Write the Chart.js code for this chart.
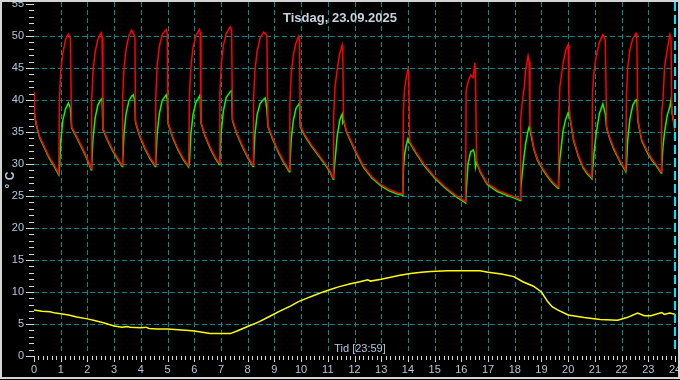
<!DOCTYPE html>
<html>
<head>
<meta charset="utf-8">
<title>Tisdag, 23.09.2025</title>
<script src="https://cdn.jsdelivr.net/npm/chart.js@4.4.1/dist/chart.umd.min.js"></script>
<style>
  html, body { margin: 0; padding: 0; background: #000; }
  canvas { display: block; }
</style>
</head>
<body>
<canvas id="temp-chart" width="680" height="380"></canvas>
<script>
var tittel = 'Tisdag, 23.09.2025';
var tidTekst = 'Tid [23:59]';
var jetzt = 23 + 59 / 60;

var yTicks = ['0', '5', '10', '15', '20', '25', '30', '35', '40', '45', '50', '55'];
var xTicks = ['0', '1', '2', '3', '4', '5', '6', '7', '8', '9', '10', '11', '12',
  '13', '14', '15', '16', '17', '18', '19', '20', '21', '22', '23', '24'];

// tid (timer) delt av rød og grønn kurve, en linje per syklus
var tid = [
  0, 0.02, 0.08, 0.2, 0.39, 0.57, 0.76, 0.93,
  0.95, 1.0, 1.08, 1.18, 1.29, 1.36, 1.41, 1.6, 1.85, 2.04, 2.14,
  2.16, 2.21, 2.29, 2.39, 2.51, 2.55, 2.58, 2.75, 2.95, 3.15, 3.3,
  3.32, 3.37, 3.45, 3.55, 3.66, 3.72, 3.78, 3.8, 3.95, 4.15, 4.35, 4.54,
  4.56, 4.61, 4.69, 4.8, 4.95, 4.99, 5.02, 5.2, 5.4, 5.6, 5.79,
  5.82, 5.87, 5.95, 6.06, 6.19, 6.22, 6.25, 6.4, 6.6, 6.8, 6.94,
  6.96, 7.01, 7.09, 7.2, 7.35, 7.4, 7.43, 7.6, 7.8, 8.0, 8.2,
  8.22, 8.27, 8.35, 8.46, 8.6, 8.66, 8.72, 8.76, 8.95, 9.15, 9.35, 9.56,
  9.58, 9.63, 9.71, 9.81, 9.91, 9.94, 9.97, 10.15, 10.4, 10.65, 10.9, 11.1, 11.2,
  11.22, 11.27, 11.35, 11.45, 11.54, 11.56, 11.59, 11.7, 11.85, 12.05, 12.35, 12.65, 12.98, 13.3, 13.6, 13.81,
  13.83, 13.87, 13.93, 14.0, 14.03, 14.07, 14.3, 14.6, 15.0, 15.4, 15.8, 16.16,
  16.18, 16.25, 16.35, 16.45, 16.5, 16.53, 16.57, 16.7, 16.97, 17.35, 17.7, 17.97, 18.2,
  18.22, 18.29, 18.35, 18.41, 18.5, 18.54, 18.57, 18.72, 18.85, 19.04, 19.23, 19.42, 19.62,
  19.64, 19.69, 19.81, 19.91, 20.0, 20.03, 20.07, 20.2, 20.39, 20.57, 20.73, 20.89,
  20.91, 20.97, 21.05, 21.17, 21.3, 21.39, 21.44, 21.55, 21.7, 21.93, 22.16,
  22.18, 22.23, 22.31, 22.42, 22.54, 22.57, 22.61, 22.75, 22.95, 23.15, 23.3, 23.48,
  23.5, 23.55, 23.61, 23.71, 23.81, 23.85, 23.88, 23.94, 24.0
];

var roed = [
  41.2, 38.0, 36.4, 34.4, 32.7, 31.1, 29.8, 28.5,
  39.5, 44.4, 47.3, 49.4, 50.3, 49.6, 35.8, 34.3, 32.2, 30.4, 29.3,
  40.0, 44.5, 47.5, 49.4, 50.5, 49.8, 35.6, 33.9, 32.2, 30.8, 29.8,
  40.5, 45.0, 48.0, 50.0, 50.9, 50.4, 49.8, 36.7, 34.6, 32.6, 31.0, 29.8,
  40.5, 45.2, 48.3, 50.2, 51.0, 50.4, 36.5, 34.2, 32.3, 30.8, 29.7,
  40.5, 45.0, 48.0, 50.0, 51.0, 50.6, 36.6, 34.6, 32.6, 31.0, 30.1,
  41.0, 45.5, 48.5, 50.4, 51.4, 50.9, 37.0, 34.8, 32.9, 31.2, 29.8,
  40.0, 44.5, 47.5, 49.6, 50.6, 50.4, 50.0, 36.0, 33.9, 32.0, 30.4, 29.0,
  39.5, 44.0, 47.0, 48.9, 50.0, 49.6, 36.0, 34.5, 32.9, 31.5, 30.1, 28.8, 27.8,
  37.5, 42.0, 44.7, 47.3, 48.6, 47.8, 37.0, 35.2, 33.8, 32.0, 29.6, 28.0, 26.8, 26.0, 25.5, 25.3,
  38.0, 41.5, 43.3, 44.8, 44.2, 33.5, 31.9, 30.0, 28.0, 26.4, 25.1, 24.1,
  41.5, 42.8, 43.9, 43.5, 45.8, 44.5, 30.5, 29.0, 27.0, 25.9, 25.3, 24.9, 24.5,
  36.9, 40.0, 41.8, 44.7, 46.9, 46.0, 36.0, 32.4, 30.8, 29.4, 28.2, 27.2, 26.4,
  36.0, 42.1, 45.7, 47.8, 48.6, 40.0, 37.4, 33.9, 31.3, 29.5, 28.6, 27.9,
  41.0, 44.5, 46.8, 49.0, 50.2, 49.4, 35.8, 34.2, 32.6, 30.6, 29.0,
  40.5, 45.0, 47.8, 49.6, 50.4, 49.8, 36.9, 33.9, 32.1, 30.7, 29.9, 28.8,
  38.0, 40.0, 45.2, 47.8, 50.2, 49.6, 38.4, 37.0, 35.3
];

var groen = [
  38.0, 37.8, 36.2, 34.2, 32.5, 30.9, 29.6, 28.3,
  29.0, 33.5, 36.8, 38.6, 39.5, 38.8, 35.6, 34.1, 32.0, 30.2, 29.1,
  29.9, 34.0, 37.2, 39.2, 40.1, 40.3, 35.4, 33.7, 32.0, 30.6, 29.6,
  30.4, 34.8, 37.9, 39.8, 40.6, 40.8, 39.6, 36.5, 34.4, 32.4, 30.8, 29.6,
  30.4, 34.6, 37.8, 39.9, 40.8, 40.0, 36.3, 34.0, 32.1, 30.6, 29.5,
  30.3, 34.5, 37.6, 39.6, 40.5, 40.8, 36.4, 34.4, 32.4, 30.8, 29.9,
  30.7, 35.0, 38.3, 40.4, 41.3, 41.5, 36.8, 34.6, 32.7, 31.0, 29.6,
  30.3, 34.5, 37.6, 39.4, 40.1, 40.3, 38.5, 35.8, 33.7, 31.8, 30.2, 28.8,
  29.5, 33.8, 36.8, 38.7, 39.3, 39.5, 35.8, 34.3, 32.7, 31.3, 29.9, 28.6, 27.6,
  28.3, 30.5, 34.3, 36.9, 37.8, 36.5, 36.8, 35.0, 33.6, 31.8, 29.4, 27.8, 26.6, 25.8, 25.3, 25.1,
  29.0, 31.3, 32.8, 33.9, 33.4, 33.3, 31.7, 29.8, 27.8, 26.2, 24.9, 23.9,
  25.5, 30.0, 31.9, 32.2, 31.5, 29.5, 30.3, 28.8, 26.8, 25.7, 25.1, 24.7, 24.3,
  26.0, 29.0, 31.3, 33.2, 35.2, 35.8, 35.3, 32.2, 30.6, 29.2, 28.0, 27.0, 26.2,
  27.5, 30.8, 35.2, 37.0, 38.0, 37.6, 37.2, 33.7, 31.1, 29.3, 28.4, 27.7,
  28.8, 31.8, 34.8, 37.9, 39.4, 37.8, 35.6, 34.0, 32.4, 30.4, 28.8,
  29.6, 33.8, 37.0, 39.2, 40.0, 40.2, 36.7, 33.7, 31.9, 30.5, 29.7, 28.6,
  29.4, 32.7, 35.0, 37.6, 39.0, 40.0, 38.2, 36.8, 35.1
];

// utetemperatur
var uteTid = [0, 0.3, 0.6, 0.8, 1.0, 1.3, 1.6, 2.0, 2.3, 2.6, 3.0, 3.3, 3.5, 3.6, 4.0, 4.2, 4.3,
  4.6, 5.0, 5.4, 5.8, 6.0, 6.3, 6.6, 7.0, 7.35, 7.6, 8.0, 8.4, 8.85, 9.2, 9.6, 9.9, 10.2,
  10.5, 10.85, 11.1, 11.4, 11.85, 12.2, 12.5, 12.6, 13.0, 13.35, 13.7, 14.1, 14.5, 14.85,
  15.5, 16.1, 16.7, 17.0, 17.5, 17.97, 18.3, 18.7, 19.0, 19.23, 19.4, 19.6, 20.0, 20.6,
  21.2, 21.85, 22.2, 22.6, 22.85, 23.1, 23.5, 23.6, 23.8, 24.0];
var ute = [7.2, 7.0, 6.9, 6.7, 6.6, 6.4, 6.1, 5.8, 5.5, 5.2, 4.7, 4.5, 4.6, 4.5, 4.4, 4.5, 4.3,
  4.2, 4.2, 4.1, 4.0, 3.9, 3.7, 3.5, 3.5, 3.5, 3.9, 4.6, 5.3, 6.25, 7.0, 7.8, 8.5, 9.0,
  9.5, 10.05, 10.4, 10.8, 11.3, 11.6, 11.9, 11.7, 12.0, 12.3, 12.6, 12.9, 13.1, 13.2,
  13.3, 13.3, 13.3, 13.1, 12.8, 12.4, 11.6, 10.9, 10.0, 8.5, 7.7, 7.2, 6.4, 6.0,
  5.7, 5.6, 6.0, 6.7, 6.3, 6.3, 6.8, 6.5, 6.7, 6.5];

var gridFarge = '#008b8b';
var tekstFarge = '#b4c6dc';
var strekFarge = '#d8d8d8';
var font = "'Liberation Sans', Arial, sans-serif";

function punkter(tider, verdier) {
  return tider.map(function(t, i) { return {x: t, y: verdier[i]}; });
}

var aksePlugin = {
  id: 'akse',
  beforeDraw: function(chart) {
    var ctx = chart.ctx;
    ctx.save();
    ctx.fillStyle = '#000';
    ctx.fillRect(0, 0, chart.width, chart.height);
    ctx.restore();
  },
  beforeDatasetsDraw: function(chart) {
    // stiplet rutenett, timer og hver 5. grad
    var ctx = chart.ctx, a = chart.chartArea;
    var x = chart.scales.x, y = chart.scales.y;
    ctx.save();
    ctx.strokeStyle = gridFarge;
    ctx.lineWidth = 1;
    ctx.setLineDash([5, 3]);
    ctx.beginPath();
    xTicks.slice(1, -1).forEach(function(t) {
      var px = Math.round(x.getPixelForValue(+t)) + 0.5;
      ctx.moveTo(px, a.top);
      ctx.lineTo(px, a.bottom - 3);
    });
    yTicks.slice(1, -1).forEach(function(t) {
      var py = Math.round(y.getPixelForValue(+t)) + 0.5;
      ctx.moveTo(a.left, py);
      ctx.lineTo(a.right, py);
    });
    ctx.stroke();
    ctx.restore();
  },
  afterDraw: function(chart) {
    var ctx = chart.ctx, a = chart.chartArea;
    var x = chart.scales.x, y = chart.scales.y;
    ctx.save();

    // "naa"-markering
    var nx = Math.round(x.getPixelForValue(jetzt));
    ctx.strokeStyle = '#00e4ff';
    ctx.lineWidth = 2;
    ctx.setLineDash([9, 4]);
    ctx.beginPath();
    ctx.moveTo(nx, a.top);
    ctx.lineTo(nx, a.bottom - 4);
    ctx.stroke();
    ctx.setLineDash([]);

    // tick-streker
    ctx.strokeStyle = strekFarge;
    ctx.lineWidth = 1;
    ctx.beginPath();
    for (var v = 0; v <= 55; v++) {
      var py = Math.round(y.getPixelForValue(v)) + 0.5;
      var len = v % 5 === 0 ? 8 : 5;
      ctx.moveTo(a.left - len, py);
      ctx.lineTo(a.left, py);
    }
    for (var m = 0; m <= 24 * 6; m++) {
      var px = Math.round(x.getPixelForValue(m / 6)) + 0.5;
      var l2 = m % 6 === 0 ? 6 : 4;
      ctx.moveTo(px, a.bottom);
      ctx.lineTo(px, a.bottom + l2);
    }
    ctx.stroke();

    // tall
    ctx.fillStyle = tekstFarge;
    ctx.font = '11px ' + font;
    ctx.textAlign = 'right';
    ctx.textBaseline = 'middle';
    yTicks.forEach(function(t) {
      ctx.fillText(t, a.left - 10, y.getPixelForValue(+t));
    });
    ctx.textAlign = 'center';
    xTicks.forEach(function(t) {
      ctx.fillText(t, x.getPixelForValue(+t), a.bottom + 14);
    });

    ctx.fillText(tidTekst, 360, a.bottom - 7);

    ctx.save();
    ctx.translate(11, 180);
    ctx.rotate(-Math.PI / 2);
    ctx.font = 'bold 12px ' + font;
    ctx.fillText('° C', 0, 0);
    ctx.restore();

    ctx.fillStyle = '#c8d2de';
    ctx.font = 'bold 13px ' + font;
    ctx.fillText(tittel, 340, 18);

    // ramme
    ctx.strokeStyle = '#d4d4d4';
    ctx.lineWidth = 2;
    ctx.strokeRect(1, 1, chart.width - 2, chart.height - 3);
    ctx.restore();
  }
};

var options = {
  type: 'line',
  data: {
    datasets: [{
      label: 'rød',
      data: punkter(tid, roed),
      borderColor: '#ff0000',
      borderWidth: 1.5
    }, {
      label: 'grønn',
      data: punkter(tid, groen),
      borderColor: '#00ff00',
      borderWidth: 1.5
    }, {
      label: 'ute',
      data: punkter(uteTid, ute),
      borderColor: '#ffff00',
      borderWidth: 1.5
    }]
  },
  options: {
    responsive: false,
    animation: false,
    layout: { padding: { top: 2, right: 5, left: 0, bottom: 0 } },
    elements: { point: { radius: 0 }, line: { tension: 0 } },
    plugins: { legend: { display: false }, tooltip: { enabled: false } },
    scales: {
      x: {
        type: 'linear',
        min: 0,
        max: 24,
        ticks: { display: false, stepSize: 1 },
        grid: { display: false, drawTicks: false },
        border: { display: false },
        afterFit: function(s) { s.height = 24; }
      },
      y: {
        min: 0,
        max: 55.3,
        ticks: { display: false, stepSize: 5 },
        grid: { display: false, drawTicks: false },
        border: { display: false },
        afterFit: function(s) { s.width = 34; }
      }
    }
  },
  plugins: [aksePlugin]
};

var chart = new Chart(document.getElementById('temp-chart'), options);
</script>
</body>
</html>
